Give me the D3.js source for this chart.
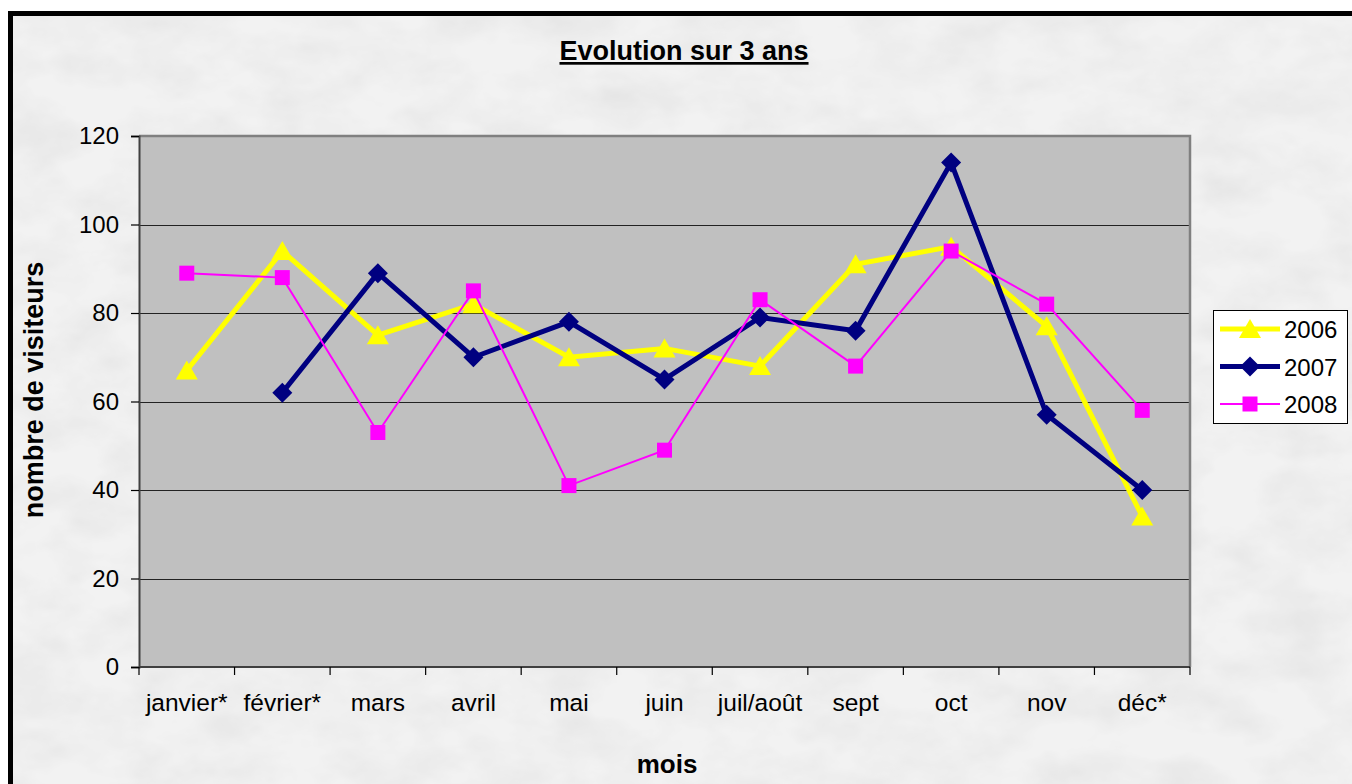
<!doctype html>
<html>
<head>
<meta charset="utf-8">
<title>Evolution sur 3 ans</title>
<script src="https://d3js.org/d3.v7.min.js"></script>
<style>
  body { margin: 0; background: #fff; }
  svg text { font-family: Arial, "Liberation Sans", sans-serif; fill: #000; }
  .tick text { font-size: 24px; }
</style>
</head>
<body>
<div id="chart"></div>
<script>
const months = ["janvier*", "février*", "mars", "avril", "mai", "juin", "juil/août", "sept", "oct", "nov", "déc*"];
const yTicks = [0, 20, 40, 60, 80, 100, 120];

const v2006 = [67, 94, 75, 82, 70, 72, 68, 91, 95, 77, 34];
const v2007 = [null, 62, 89, 70, 78, 65, 79, 76, 114, 57, 40];
const v2008 = [89, 88, 53, 85, 41, 49, 83, 68, 94, 82, 58];

const series = [
  { name: "2006", values: v2006, color: "#ffff00", width: 5, marker: "triangle" },
  { name: "2007", values: v2007, color: "#000080", width: 5, marker: "diamond" },
  { name: "2008", values: v2008, color: "#ff00ff", width: 2, marker: "square" }
];

const W = 1352, H = 784;
const plot = { left: 139, right: 1190, top: 136, bottom: 667 };

const svg = d3.select("#chart").append("svg")
  .attr("width", W).attr("height", H);

// marble-ish background
const defs = svg.append("defs");
const f = defs.append("filter").attr("id", "marble")
  .attr("x", 0).attr("y", 0).attr("width", "100%").attr("height", "100%");
f.append("feTurbulence").attr("type", "fractalNoise")
  .attr("baseFrequency", "0.015 0.025").attr("numOctaves", 4).attr("seed", 7);
f.append("feColorMatrix").attr("type", "matrix")
  .attr("values", "0 0 0 0 0  0 0 0 0 0  0 0 0 0 0  0.25 0.25 0.25 0 -0.3");
f.append("feComposite").attr("in2", "SourceGraphic").attr("operator", "in");

svg.append("rect").attr("x", 13).attr("y", 16).attr("width", W).attr("height", H)
  .attr("fill", "#f2f2f2");
svg.append("rect").attr("x", 13).attr("y", 16).attr("width", W).attr("height", H)
  .attr("fill", "#f2f2f2").attr("filter", "url(#marble)").attr("opacity", 0.18);
svg.append("rect").attr("x", 10.5).attr("y", 13.5).attr("width", W + 20).attr("height", H + 20)
  .attr("fill", "none").attr("stroke", "#000").attr("stroke-width", 5);

const x = d3.scaleBand().domain(months).range([plot.left, plot.right]);
const y = d3.scaleLinear().domain([0, 120]).range([plot.bottom, plot.top]);

// plot area
svg.append("rect")
  .attr("x", plot.left).attr("y", plot.top)
  .attr("width", plot.right - plot.left).attr("height", plot.bottom - plot.top)
  .attr("fill", "#c0c0c0");

// gridlines
svg.append("g").selectAll("line").data(yTicks.filter(d => d > 0 && d < 120)).join("line")
  .attr("x1", plot.left).attr("x2", plot.right)
  .attr("y1", d => Math.round(y(d)) + 0.5).attr("y2", d => Math.round(y(d)) + 0.5)
  .attr("stroke", "#222").attr("stroke-width", 1.2);

// top & right border
svg.append("path")
  .attr("d", `M${plot.left},${plot.top}H${plot.right}V${plot.bottom}`)
  .attr("fill", "none").attr("stroke", "#808080").attr("stroke-width", 2.5);

// axes
const yAxis = d3.axisLeft(y).tickValues(yTicks).tickSize(8).tickPadding(12);
const gy = svg.append("g").attr("transform", `translate(${plot.left},0)`).call(yAxis);
gy.select(".domain").attr("stroke", "#404040").attr("stroke-width", 2);
gy.selectAll(".tick line").attr("stroke", "#000").attr("stroke-width", 1.2);
gy.selectAll(".tick text").attr("font-family", "Arial, 'Liberation Sans', sans-serif").attr("font-size", 24);

const boundaries = months.map(m => x(m)).concat([plot.right]);
const gx = svg.append("g").attr("transform", `translate(0,${plot.bottom})`);
gx.append("line").attr("x1", plot.left).attr("x2", plot.right)
  .attr("stroke", "#404040").attr("stroke-width", 2);
gx.selectAll(".xt").data(boundaries).join("line").attr("class", "xt")
  .attr("x1", d => d).attr("x2", d => d).attr("y1", 0).attr("y2", 8)
  .attr("stroke", "#000").attr("stroke-width", 1.2);
gx.selectAll(".xl").data(months).join("text").attr("class", "xl")
  .attr("x", d => x(d) + x.bandwidth() / 2).attr("y", 44)
  .attr("text-anchor", "middle").attr("font-size", 24.5)
  .text(d => d);

// series
const line = d3.line()
  .defined(d => d != null)
  .x((d, i) => x(months[i]) + x.bandwidth() / 2)
  .y(d => y(d));

function markerPath(type) {
  if (type === "triangle") return "M0,-10L11,9L-11,9Z";
  if (type === "diamond") return "M0,-10L10,0L0,10L-10,0Z";
  return "M-7.5,-7.5H7.5V7.5H-7.5Z";
}

series.forEach(s => {
  const g = svg.append("g");
  g.append("path").datum(s.values)
    .attr("d", line)
    .attr("fill", "none").attr("stroke", s.color).attr("stroke-width", s.width)
    .attr("stroke-linejoin", "miter");
  g.selectAll("path.m").data(s.values.map((v, i) => ({ v, i })).filter(d => d.v != null))
    .join("path").attr("class", "m")
    .attr("transform", d => `translate(${x(months[d.i]) + x.bandwidth() / 2},${y(d.v)})`)
    .attr("d", markerPath(s.marker))
    .attr("fill", s.color);
});

// title
svg.append("text").attr("x", 684).attr("y", 60)
  .attr("text-anchor", "middle").attr("font-size", 27).attr("font-weight", "bold")
  .attr("text-decoration", "underline")
  .text("Evolution sur 3 ans");

// axis titles
svg.append("text")
  .attr("transform", "translate(43,390) rotate(-90)")
  .attr("text-anchor", "middle").attr("font-size", 27).attr("font-weight", "bold")
  .text("nombre de visiteurs");

svg.append("text").attr("x", 667).attr("y", 773)
  .attr("text-anchor", "middle").attr("font-size", 26).attr("font-weight", "bold")
  .text("mois");

// legend
const legend = svg.append("g").attr("transform", "translate(1213,310)");
legend.append("rect").attr("x", 0.5).attr("y", 0.5).attr("width", 134).attr("height", 113)
  .attr("fill", "#fff").attr("stroke", "#000").attr("stroke-width", 1);
const rows = legend.selectAll("g.row").data(series).join("g").attr("class", "row")
  .attr("transform", (d, i) => `translate(0,${19 + i * 37.5})`);
rows.append("line").attr("x1", 7).attr("x2", 67).attr("y1", 0).attr("y2", 0)
  .attr("stroke", d => d.color).attr("stroke-width", d => d.width);
rows.append("path").attr("transform", "translate(37,0)")
  .attr("d", d => markerPath(d.marker)).attr("fill", d => d.color);
rows.append("text").attr("x", 71).attr("y", 9).attr("font-size", 24)
  .text(d => d.name);
</script>
</body>
</html>
